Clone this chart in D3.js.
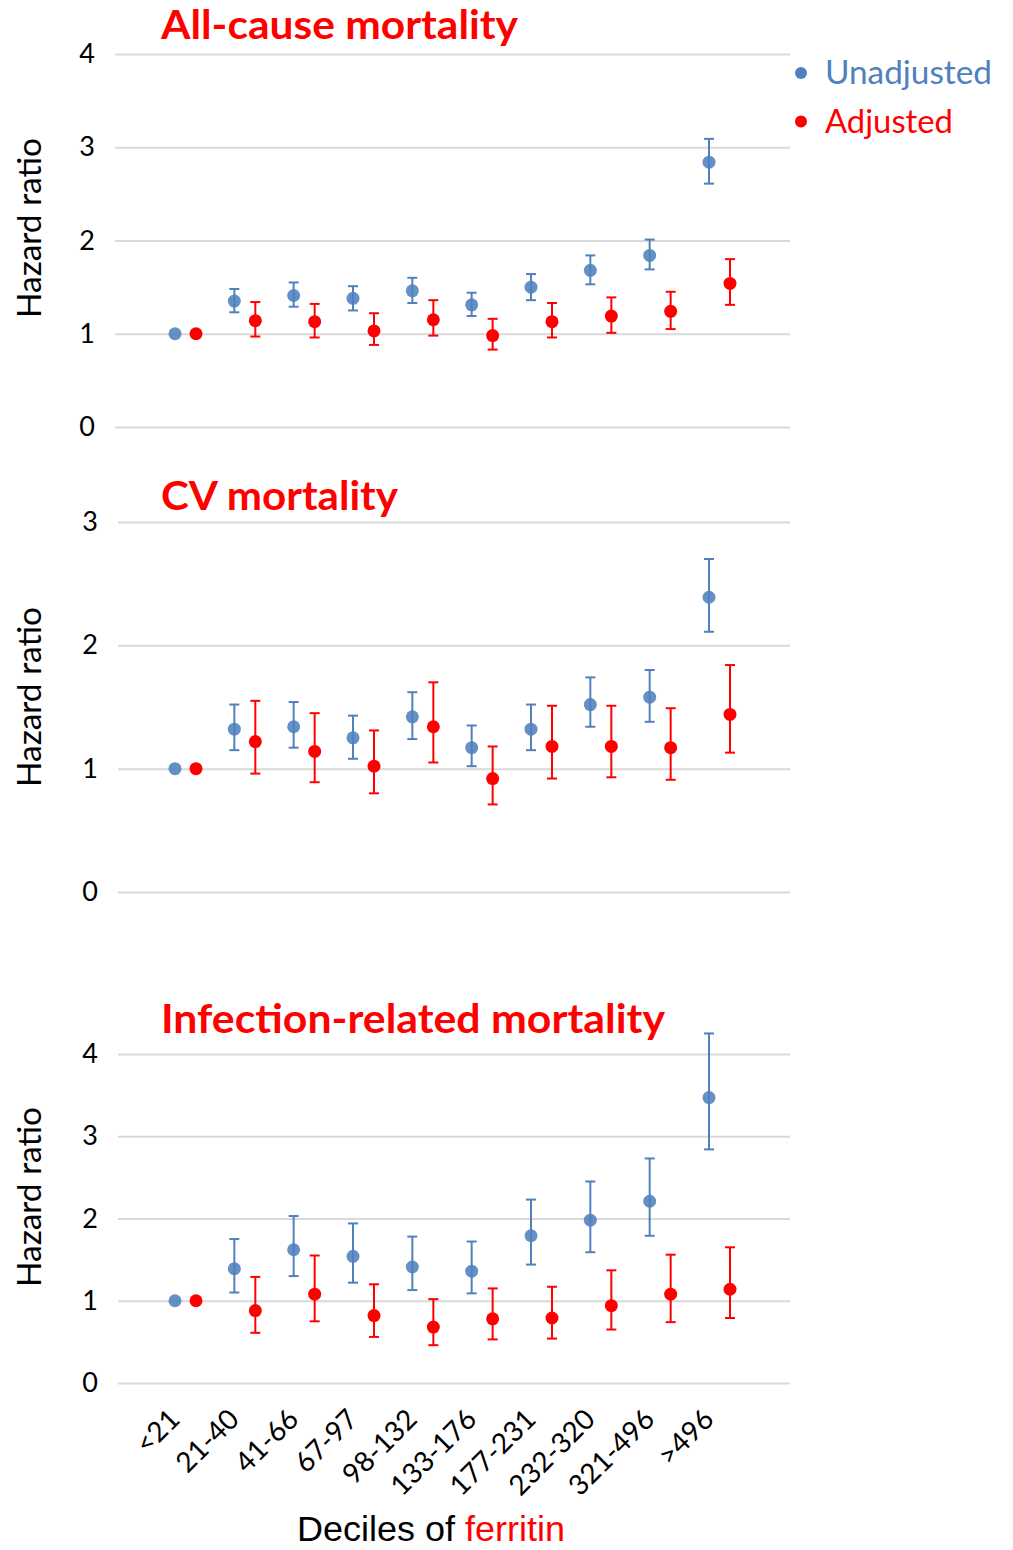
<!DOCTYPE html>
<html>
<head>
<meta charset="utf-8">
<script src="https://cdn.jsdelivr.net/npm/d3@7"></script>
<style>
  html, body { margin: 0; padding: 0; background: #fff; }
  svg { display: block; }
</style>
</head>
<body>
<script>
// ---------- DATA ----------
const categories = ["<21", "21-40", "41-66", "67-97", "98-132", "133-176", "177-231", "232-320", "321-496", ">496"];
const seriesNames = ["Unadjusted", "Adjusted"];

// All-cause mortality
const allUnadj   = [1.00, 1.35, 1.41, 1.38, 1.46, 1.31, 1.50, 1.68, 1.84, 2.84];
const allUnadjLo = [1.00, 1.23, 1.29, 1.25, 1.33, 1.19, 1.36, 1.53, 1.69, 2.61];
const allUnadjHi = [1.00, 1.48, 1.55, 1.51, 1.60, 1.44, 1.64, 1.84, 2.01, 3.09];
const allAdj     = [1.00, 1.14, 1.13, 1.03, 1.15, 0.98, 1.13, 1.19, 1.24, 1.54];
const allAdjLo   = [1.00, 0.97, 0.96, 0.88, 0.98, 0.83, 0.96, 1.01, 1.05, 1.31];
const allAdjHi   = [1.00, 1.34, 1.32, 1.22, 1.36, 1.16, 1.33, 1.39, 1.45, 1.80];

// CV mortality
const cvUnadj   = [1.00, 1.32, 1.34, 1.25, 1.42, 1.17, 1.32, 1.52, 1.58, 2.39];
const cvUnadjLo = [1.00, 1.15, 1.17, 1.08, 1.24, 1.02, 1.15, 1.34, 1.38, 2.11];
const cvUnadjHi = [1.00, 1.52, 1.54, 1.43, 1.62, 1.35, 1.52, 1.74, 1.80, 2.70];
const cvAdj     = [1.00, 1.22, 1.14, 1.02, 1.34, 0.92, 1.18, 1.18, 1.17, 1.44];
const cvAdjLo   = [1.00, 0.96, 0.89, 0.80, 1.05, 0.71, 0.92, 0.93, 0.91, 1.13];
const cvAdjHi   = [1.00, 1.55, 1.45, 1.31, 1.70, 1.18, 1.51, 1.51, 1.49, 1.84];

// Infection-related mortality
const infUnadj   = [1.00, 1.39, 1.62, 1.54, 1.41, 1.36, 1.79, 1.98, 2.21, 3.47];
const infUnadjLo = [1.00, 1.10, 1.30, 1.22, 1.13, 1.09, 1.44, 1.59, 1.79, 2.84];
const infUnadjHi = [1.00, 1.75, 2.03, 1.94, 1.78, 1.72, 2.23, 2.45, 2.73, 4.25];
const infAdj     = [1.00, 0.88, 1.08, 0.82, 0.68, 0.78, 0.79, 0.94, 1.08, 1.14];
const infAdjLo   = [1.00, 0.61, 0.75, 0.56, 0.46, 0.53, 0.54, 0.65, 0.74, 0.79];
const infAdjHi   = [1.00, 1.29, 1.55, 1.20, 1.02, 1.15, 1.17, 1.37, 1.56, 1.65];

const panelTitles = ["All-cause mortality", "CV mortality", "Infection-related mortality"];
const yTicksTop = [0, 1, 2, 3, 4];
const yTicksMid = [0, 1, 2, 3];
const yTicksBot = [0, 1, 2, 3, 4];
const yAxisTitle = "Hazard ratio";
const xAxisTitle = ["Deciles of ", "ferritin"];

// ---------- LAYOUT / STYLE ----------
const W = 1013, H = 1550;
const BLUE = "#4F81BD", RED = "#FF0000", GRID = "#d9d9d9";
const SANS = "Lato, 'Open Sans', 'DejaVu Sans', sans-serif";

const svg = d3.select("body").append("svg").attr("width", W).attr("height", H);

const x = d3.scalePoint().domain(categories).range([185.5, 719.5]);
const OFF = 10.5;

const panels = [
  { title: panelTitles[0], titleX: 161, titleY: 39, titleW: 357, ticks: yTicksTop, domain: [0, 4], range: [427, 54], gx0: 115, ylabY: 228,
    series: [
      { v: allUnadj, lo: allUnadjLo, hi: allUnadjHi, color: BLUE, dx: -OFF, op: 0.88 },
      { v: allAdj, lo: allAdjLo, hi: allAdjHi, color: RED, dx: OFF, op: 1 }] },
  { title: panelTitles[1], titleX: 161, titleY: 510, titleW: 237, ticks: yTicksMid, domain: [0, 3], range: [892, 522], gx0: 118, ylabY: 697,
    series: [
      { v: cvUnadj, lo: cvUnadjLo, hi: cvUnadjHi, color: BLUE, dx: -OFF, op: 0.88 },
      { v: cvAdj, lo: cvAdjLo, hi: cvAdjHi, color: RED, dx: OFF, op: 1 }] },
  { title: panelTitles[2], titleX: 161, titleY: 1033, titleW: 504, ticks: yTicksBot, domain: [0, 4], range: [1383, 1054], gx0: 118, ylabY: 1197,
    series: [
      { v: infUnadj, lo: infUnadjLo, hi: infUnadjHi, color: BLUE, dx: -OFF, op: 0.88 },
      { v: infAdj, lo: infAdjLo, hi: infAdjHi, color: RED, dx: OFF, op: 1 }] }
];

const GX1 = 790;

panels.forEach(p => {
  const y = d3.scaleLinear().domain(p.domain).range(p.range);
  const g = svg.append("g");

  // gridlines + tick labels via axis
  const ax = g.append("g")
    .attr("transform", `translate(${p.gx0},0)`)
    .call(d3.axisLeft(y).tickValues(p.ticks).tickFormat(d3.format("d"))
      .tickSizeInner(-(GX1 - p.gx0)).tickSizeOuter(0).tickPadding(20));
  ax.select(".domain").remove();
  ax.selectAll(".tick line").attr("stroke", GRID).attr("stroke-width", 2);
  ax.selectAll(".tick text").attr("fill", "#000").attr("font-family", SANS).attr("font-size", 27);

  // y axis title
  g.append("text")
    .attr("transform", `translate(41,${p.ylabY}) rotate(-90)`)
    .attr("text-anchor", "middle")
    .attr("font-family", SANS).attr("font-size", 32)
    .attr("textLength", 180).attr("lengthAdjust", "spacingAndGlyphs")
    .text(yAxisTitle);

  // panel title
  g.append("text")
    .attr("x", p.titleX).attr("y", p.titleY)
    .attr("fill", RED).attr("font-family", SANS).attr("font-weight", 700).attr("font-size", 40)
    .attr("textLength", p.titleW).attr("lengthAdjust", "spacingAndGlyphs")
    .text(p.title);

  // series
  p.series.forEach(s => {
    const sg = g.append("g");
    const rows = categories.map((c, i) => ({ c, v: s.v[i], lo: s.lo[i], hi: s.hi[i] }));
    const eb = rows.filter(d => d.hi > d.lo);
    sg.selectAll("line.eb").data(eb).enter().append("line")
      .attr("x1", d => x(d.c) + s.dx).attr("x2", d => x(d.c) + s.dx)
      .attr("y1", d => y(d.lo)).attr("y2", d => y(d.hi))
      .attr("stroke", s.color).attr("stroke-width", 2);
    ["lo", "hi"].forEach(k => {
      sg.selectAll("line.cap" + k).data(eb).enter().append("line")
        .attr("x1", d => x(d.c) + s.dx - 5).attr("x2", d => x(d.c) + s.dx + 5)
        .attr("y1", d => y(d[k])).attr("y2", d => y(d[k]))
        .attr("stroke", s.color).attr("stroke-width", 2);
    });
    sg.selectAll("circle").data(rows).enter().append("circle")
      .attr("cx", d => x(d.c) + s.dx).attr("cy", d => y(d.v)).attr("r", 6.5)
      .attr("fill", s.color).attr("fill-opacity", s.op);
  });
});

// x tick labels (bottom panel only)
svg.append("g").selectAll("text").data(categories).enter().append("text")
  .attr("transform", d => `translate(${x(d) - 4},1421) rotate(-45)`)
  .attr("text-anchor", "end")
  .attr("font-family", SANS).attr("font-size", 28)
  .text(d => d);

// x axis title
const xt = svg.append("text")
  .attr("x", 297).attr("y", 1541)
  .attr("font-family", "'Liberation Sans', Arial, sans-serif").attr("font-size", 35)
  .attr("textLength", 268).attr("lengthAdjust", "spacingAndGlyphs");
xt.append("tspan").attr("fill", "#000").text(xAxisTitle[0]);
xt.append("tspan").attr("fill", RED).text(xAxisTitle[1]);

// legend
const legend = svg.append("g");
const legW = [167, 128];
seriesNames.forEach((n, i) => {
  const cy = 73 + i * 48.5;
  const col = i === 0 ? BLUE : RED;
  legend.append("circle").attr("cx", 801).attr("cy", cy).attr("r", 6).attr("fill", col);
  legend.append("text").attr("x", 825).attr("y", cy + 11)
    .attr("fill", col).attr("font-family", SANS).attr("font-size", 32)
    .attr("textLength", legW[i]).attr("lengthAdjust", "spacingAndGlyphs")
    .text(n);
});
</script>
</body>
</html>
